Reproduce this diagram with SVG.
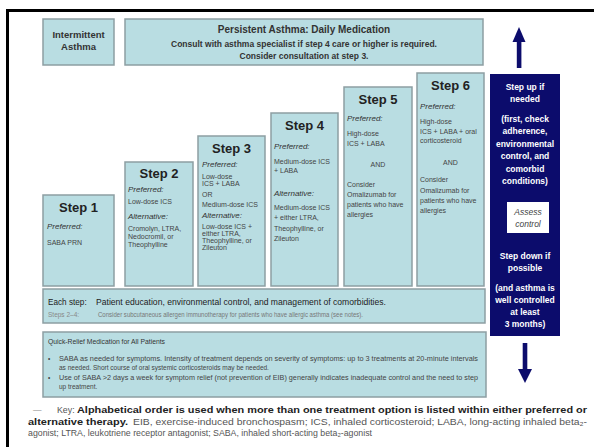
<svg xmlns="http://www.w3.org/2000/svg" width="594" height="447" viewBox="0 0 594 447">
<style>
text{font-family:"Liberation Sans",Arial,sans-serif}
.box{fill:#b9dde2;stroke:#8d9ea2;stroke-width:1.5}
.hd{font-size:13px;font-weight:bold;fill:#222;text-anchor:middle}
.pf{font-size:8px;font-style:italic;fill:#333}
.tx{font-size:7px;fill:#444}
.ct{text-anchor:middle}
.wt{font-size:8.5px;font-weight:bold;fill:#fff;text-anchor:middle}
.ttl{font-weight:bold;fill:#333;text-anchor:middle}
.arr{fill:#0c0c6c}
.key{font-size:8.8px;fill:#555}
.keyb{font-size:9.5px;font-weight:bold;fill:#222}
</style>
<rect width="594" height="447" fill="#fff"/>
<path d="M7.5,447V10.5H594" fill="none" stroke="#000" stroke-width="3"/>

<g id="intermittent">
<rect class="box" x="43" y="19" width="71" height="46"/>
<text class="ttl" x="78.5" y="38" font-size="9.5">Intermittent</text>
<text class="ttl" x="78.5" y="50" font-size="9.5">Asthma</text>
</g>

<g id="persistent">
<rect class="box" x="125" y="19" width="358" height="46"/>
<text class="ttl" x="304" y="33" font-size="10">Persistent Asthma: Daily Medication</text>
<text class="ttl" x="304" y="47" font-size="8.5">Consult with asthma specialist if step 4 care or higher is required.</text>
<text class="ttl" x="304" y="58.5" font-size="8.5">Consider consultation at step 3.</text>
</g>

<g id="step1">
<rect class="box" x="43" y="195" width="71" height="91"/>
<text class="hd" x="78.5" y="212">Step 1</text>
<text class="pf" x="47" y="229">Preferred:</text>
<text class="tx" x="47" y="244.5">SABA PRN</text>
</g>

<g id="step2">
<rect class="box" x="125" y="162" width="68" height="124"/>
<text class="hd" x="159" y="178">Step 2</text>
<text class="pf" x="128" y="192">Preferred:</text>
<text class="tx" x="128" y="203.5">Low-dose ICS</text>
<text class="pf" x="128" y="218.5">Alternative:</text>
<text class="tx" x="128" y="231">Cromolyn, LTRA,</text>
<text class="tx" x="128" y="239">Nedocromil, or</text>
<text class="tx" x="128" y="247">Theophylline</text>
</g>

<g id="step3">
<rect class="box" x="198" y="136" width="67" height="150"/>
<text class="hd" x="231.5" y="153">Step 3</text>
<text class="pf" x="202" y="167">Preferred:</text>
<text class="tx" x="202" y="178.5">Low-dose</text>
<text class="tx" x="202" y="185.5">ICS + LABA</text>
<text class="tx" x="202" y="196.5">OR</text>
<text class="tx" x="202" y="206.5">Medium-dose ICS</text>
<text class="pf" x="202" y="218">Alternative:</text>
<text class="tx" x="202" y="228.5">Low-dose ICS +</text>
<text class="tx" x="202" y="235.5">either LTRA,</text>
<text class="tx" x="202" y="242.5">Theophylline, or</text>
<text class="tx" x="202" y="249.5">Zileuton</text>
</g>

<g id="step4">
<rect class="box" x="271" y="113" width="67" height="173"/>
<text class="hd" x="304.5" y="130">Step 4</text>
<text class="pf" x="274" y="149">Preferred:</text>
<text class="tx" x="274" y="163.5">Medium-dose ICS</text>
<text class="tx" x="274" y="172.5">+ LABA</text>
<text class="pf" x="274" y="196">Alternative:</text>
<text class="tx" x="274" y="209.5">Medium-dose ICS</text>
<text class="tx" x="274" y="219.5">+ either LTRA,</text>
<text class="tx" x="274" y="230.5">Theophylline, or</text>
<text class="tx" x="274" y="240.5">Zileuton</text>
</g>

<g id="step5">
<rect class="box" x="344" y="87" width="68" height="199"/>
<text class="hd" x="378" y="104">Step 5</text>
<text class="pf" x="347" y="121">Preferred:</text>
<text class="tx" x="347" y="135.5">High-dose</text>
<text class="tx" x="347" y="145.5">ICS + LABA</text>
<text class="tx ct" x="378" y="166.5">AND</text>
<text class="tx" x="347" y="186.5">Consider</text>
<text class="tx" x="347" y="196.5">Omalizumab for</text>
<text class="tx" x="347" y="206.5">patients who have</text>
<text class="tx" x="347" y="216.5">allergies</text>
</g>

<g id="step6">
<rect class="box" x="417" y="73" width="67" height="213"/>
<text class="hd" x="450.5" y="90">Step 6</text>
<text class="pf" x="420" y="109">Preferred:</text>
<text class="tx" x="420" y="123.5">High-dose</text>
<text class="tx" x="420" y="133.5">ICS + LABA + oral</text>
<text class="tx" x="420" y="142.5">corticosteroid</text>
<text class="tx ct" x="450.5" y="164.5">AND</text>
<text class="tx" x="420" y="181.5">Consider</text>
<text class="tx" x="420" y="192.5">Omalizumab for</text>
<text class="tx" x="420" y="202.5">patients who have</text>
<text class="tx" x="420" y="212.5">allergies</text>
</g>

<g id="each-step">
<rect class="box" x="43" y="289" width="442" height="34"/>
<text x="48" y="305" font-size="8.2" fill="#222">Each step:</text>
<text x="96" y="305" font-size="8.2" fill="#222" textLength="290" lengthAdjust="spacingAndGlyphs">Patient education, environmental control, and management of comorbidities.</text>
<text x="48" y="316.5" font-size="6.5" fill="#888">Steps 2–4:</text>
<text x="98" y="316.5" font-size="6.5" fill="#777" textLength="265" lengthAdjust="spacingAndGlyphs">Consider subcutaneous allergen immunotherapy for patients who have allergic asthma (see notes).</text>
</g>

<g id="quick-relief">
<rect class="box" x="43" y="332" width="443" height="65"/>
<text x="48" y="343.5" font-size="6.5" fill="#333" textLength="117" lengthAdjust="spacingAndGlyphs">Quick-Relief Medication for All Patients</text>
<text x="48" y="360.5" font-size="6.5" fill="#444">•</text>
<text x="59" y="360.5" font-size="6.5" fill="#444" textLength="419" lengthAdjust="spacingAndGlyphs">SABA as needed for symptoms. Intensity of treatment depends on severity of symptoms: up to 3 treatments at 20-minute intervals</text>
<text x="59" y="369.5" font-size="6.5" fill="#444">as needed.  Short course of oral systemic corticosteroids may be needed.</text>
<text x="48" y="379.5" font-size="6.5" fill="#444">•</text>
<text x="59" y="379.5" font-size="6.5" fill="#444" textLength="419" lengthAdjust="spacingAndGlyphs">Use of SABA &gt;2 days a week for symptom relief (not prevention of EIB) generally indicates inadequate control and the need to step</text>
<text x="59" y="388.5" font-size="6.5" fill="#444">up treatment.</text>
</g>

<g id="assess-panel">
<rect x="490" y="74" width="70" height="262" fill="#0c0c6c"/>
<text class="wt" x="525" y="90">Step up if</text>
<text class="wt" x="525" y="102">needed</text>
<text class="wt" x="525" y="122">(first, check</text>
<text class="wt" x="525" y="134">adherence,</text>
<text class="wt" x="525" y="146.5">environmental</text>
<text class="wt" x="525" y="159">control, and</text>
<text class="wt" x="525" y="171.5">comorbid</text>
<text class="wt" x="525" y="184">conditions)</text>
<rect x="507" y="202" width="42" height="31" fill="#fff"/>
<text x="528" y="215" font-size="8.5" font-style="italic" fill="#444" text-anchor="middle">Assess</text>
<text x="528" y="227" font-size="8.5" font-style="italic" fill="#444" text-anchor="middle">control</text>
<text class="wt" x="525" y="259">Step down if</text>
<text class="wt" x="525" y="271">possible</text>
<text class="wt" x="525" y="291">(and asthma is</text>
<text class="wt" x="525" y="303">well controlled</text>
<text class="wt" x="525" y="315">at least</text>
<text class="wt" x="525" y="327">3 months)</text>
</g>

<g id="connectors">
<rect class="arr" x="516.8" y="40" width="4.6" height="28"/>
<polygon class="arr" points="519,27 512.5,42 525.5,42"/>
<rect class="arr" x="522.7" y="343" width="4.6" height="28"/>
<polygon class="arr" points="518,369 532,369 525,383"/>
</g>

<g id="key">
<text x="33" y="413" font-size="8.5" fill="#888">—</text>
<text x="57" y="413" class="key">Key:</text>
<text x="77" y="413" class="keyb" textLength="510" lengthAdjust="spacingAndGlyphs">Alphabetical order is used when more than one treatment option is listed within either preferred or</text>
<text x="28" y="424.5" class="keyb" textLength="100" lengthAdjust="spacingAndGlyphs">alternative therapy.</text>
<text x="133" y="424.5" class="key" textLength="454" lengthAdjust="spacingAndGlyphs">EIB, exercise-induced bronchospasm; ICS, inhaled corticosteroid; LABA, long-acting inhaled beta₂-</text>
<text x="28" y="435.5" class="key" textLength="344" lengthAdjust="spacingAndGlyphs">agonist; LTRA, leukotriene receptor antagonist; SABA, inhaled short-acting beta₂-agonist</text>
</g>
</svg>
